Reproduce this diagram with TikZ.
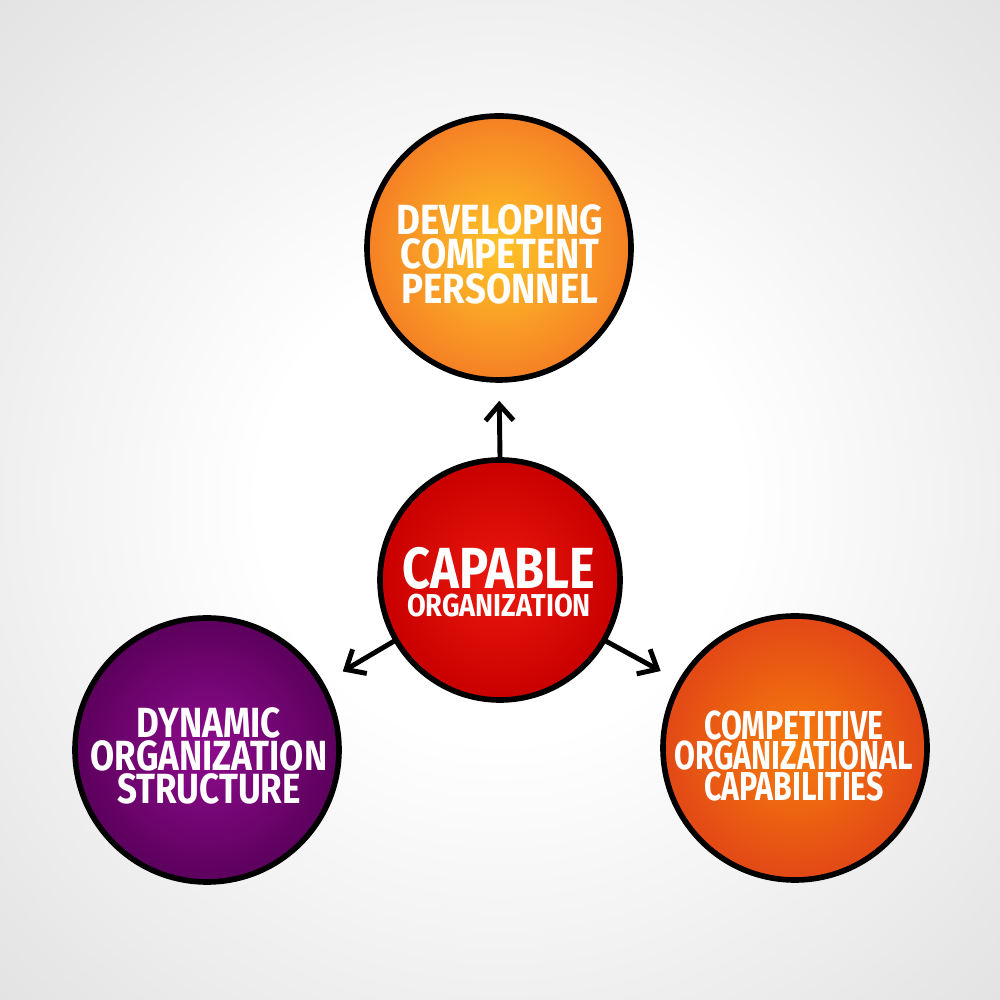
\documentclass[tikz,border=0pt]{standalone}
\usepackage{fontspec}
\setmainfont{Fira Sans}
\usetikzlibrary{arrows.meta}
\definecolor{bgout}{RGB}{226,226,226}
\definecolor{topin}{RGB}{255,196,40}
\definecolor{topout}{RGB}{245,128,36}
\definecolor{capin}{RGB}{236,24,14}
\definecolor{capout}{RGB}{200,0,0}
\definecolor{dynin}{RGB}{142,12,142}
\definecolor{dynout}{RGB}{92,0,92}
\definecolor{cmpin}{RGB}{247,125,12}
\definecolor{cmpout}{RGB}{226,72,22}
\pgfdeclareradialshading{bgshade}{\pgfpoint{0bp}{0bp}}{color(0bp)=(white); color(12bp)=(white); color(36bp)=(bgout)}
\begin{document}
\begin{tikzpicture}[
  disc/.style={circle, draw=black, line width=1.6pt, minimum size=2.64cm, inner sep=0pt, shading=radial},
  lbl/.style={text=white, align=center, inner sep=0pt, transform shape},
  arr/.style={line width=1.4pt, line cap=round, -{Straight Barb[length=1.6mm,width=2.8mm]}}
]
\shade[shading=bgshade] (0,0) rectangle (10,10);
\useasboundingbox (0,0) rectangle (10,10);

\node[disc, inner color=topin, outer color=topout] (top) at (4.99,7.52) {};
\node[disc, minimum size=2.40cm, inner color=capin, outer color=capout] (cap) at (5.00,4.20) {};
\node[disc, inner color=dynin, outer color=dynout] (dyn) at (2.07,2.50) {};
\node[disc, inner color=cmpin, outer color=cmpout] (cmp) at (7.95,2.52) {};

\node[lbl, xscale=0.87, font=\bfseries\fontsize{12}{9.8}\selectfont] (toptxt) at (5.00,7.46) {DEVELOPING\\COMPETENT\\PERSONNEL};
\node[lbl, xscale=0.84, font=\bfseries\fontsize{16.5}{16.5}\selectfont, anchor=base] (captxt) at (4.99,4.11) {CAPABLE};
\node[lbl, xscale=0.86, font=\bfseries\fontsize{9}{9}\selectfont, anchor=base] (orgtxt) at (4.99,3.83) {ORGANIZATION};
\node[lbl, xscale=0.83, font=\bfseries\fontsize{12}{9.5}\selectfont] (dyntxt) at (2.09,2.44) {DYNAMIC\\ORGANIZATION\\STRUCTURE};
\node[lbl, xscale=0.75, font=\bfseries\fontsize{11.5}{8.8}\selectfont] (cmptxt) at (7.94,2.44) {COMPETITIVE\\ORGANIZATIONAL\\CAPABILITIES};

\draw[arr, shorten >=0.18cm] (cap.north) -- (top.south);
\draw[arr, shorten >=0.22cm] (cap.210) -- (dyn.30);
\draw[arr, shorten >=0.20cm] (cap.330) -- (cmp.150);
\end{tikzpicture}
\end{document}
